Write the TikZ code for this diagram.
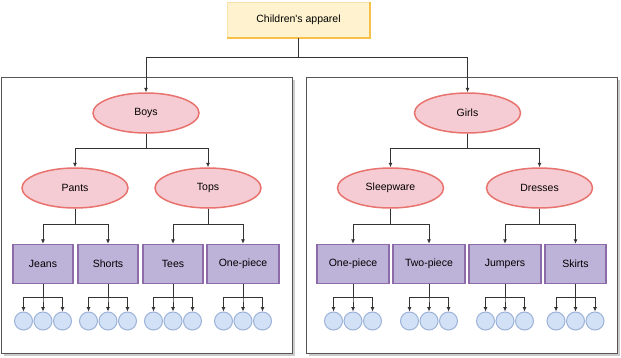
\documentclass[tikz,border=0pt]{standalone}
\usepackage{fontspec}
\setmainfont{Liberation Sans}
\usetikzlibrary{shapes.geometric,arrows.meta}
\definecolor{ellfill}{HTML}{F6CCD4}
\definecolor{elldraw}{HTML}{E8736E}
\definecolor{boxfill}{HTML}{BDB2D8}
\definecolor{boxdraw}{HTML}{8C6BA8}
\definecolor{cirfill}{HTML}{D2E1F5}
\definecolor{cirdraw}{HTML}{9CB2D8}
\definecolor{rootfill}{HTML}{FEF3CE}
\definecolor{rootdraw}{HTML}{F6C04A}
\definecolor{rootedge}{HTML}{FBE3A8}
\definecolor{paneldraw}{HTML}{555555}
\definecolor{panelshadow}{HTML}{CCCCCC}
\definecolor{linecol}{HTML}{333333}
\begin{document}
\begin{tikzpicture}[x=1pt,y=-1pt,
 font=\fontsize{10.5}{12}\selectfont,
 ellnode/.style={ellipse,draw=elldraw,fill=ellfill,line width=1.5pt,minimum width=106pt,minimum height=40pt,inner sep=0pt},
 boxnode/.style={rectangle,draw=boxdraw,fill=boxfill,line width=1.5pt,minimum height=39pt,inner sep=0pt},
 leaf/.style={circle,draw=cirdraw,fill=cirfill,line width=1pt,minimum size=18pt,inner sep=0pt},
 plainline/.style={draw=linecol,line width=0.8pt},
 arr/.style={plainline,-{Latex[length=4.5pt,width=4pt]}},
 panelbox/.style={draw=paneldraw,fill=white,line width=1pt},
 panelshade/.style={fill=panelshadow}]
\useasboundingbox (0,0) rectangle (621,357);
% panels
\fill[panelshade] (4,80) rectangle (295,356);
\draw[panelbox] (1,77) rectangle (292,353);
\fill[panelshade] (309,80) rectangle (620,356);
\draw[panelbox] (306,77) rectangle (617,353);
% root
\node[draw=rootedge,fill=rootfill,line width=0.8pt,minimum width=143pt,minimum height=36pt,inner sep=0pt] (root) at (298.5,20) {Children\textquotesingle s apparel};
\draw[rootdraw,line width=2pt] (root.north east) -- (root.south east) -- (root.south west);
% level 1
\node[ellnode] (boys) at (146,113) {Boys};
\node[ellnode] (girls) at (467.5,113) {Girls};
\coordinate (rj) at (298.5,57);
\draw[plainline] (root.south) -- (rj);
\draw[arr] (rj) -| (boys.north);
\draw[arr] (rj) -| (girls.north);
% level 2
\node[ellnode] (pants) at (75,188) {Pants};
\node[ellnode] (tops) at (208,188) {Tops};
\node[ellnode] (sleep) at (390.5,188) {Sleepware};
\node[ellnode] (dress) at (539.5,188) {Dresses};
\draw[arr] (boys.south) -- ++(0,15) -| (pants.north);
\draw[arr] (boys.south) -- ++(0,15) -| (tops.north);
\draw[arr] (girls.south) -- ++(0,15) -| (sleep.north);
\draw[arr] (girls.south) -- ++(0,15) -| (dress.north);
% level 3 and leaves
\foreach \n/\x/\w/\t/\p in {b1/43/60/Jeans/pants, b2/108/60/Shorts/pants, b3/173/60/Tees/tops, b4/243/72/One-piece/tops, b5/353/72/One-piece/sleep, b6/429/72/Two-piece/sleep, b7/505/72/Jumpers/dress, b8/575.5/61/Skirts/dress}{
  \node[boxnode,minimum width=\w pt] (\n) at (\x,264) {\t};
  \draw[arr] (\p.south) -- ++(0,16) -| (\n.north);
  \foreach \k/\dx in {1/-19.5,2/0,3/19.5}{
    \node[leaf] (\n-\k) at (\x+\dx,321) {};
    \draw[arr] (\n.south) -- ++(0,13) -| (\n-\k.north);
  }
}
\end{tikzpicture}
\end{document}
